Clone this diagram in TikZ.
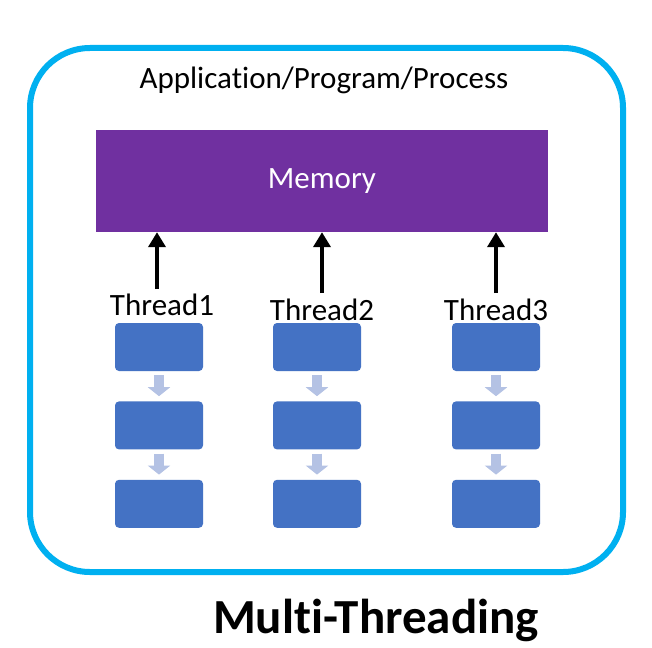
\documentclass[tikz,border=0pt]{standalone}
\usepackage{fontspec}
\setmainfont{Carlito}[Ligatures=NoCommon]
\usetikzlibrary{arrows.meta,positioning}
\definecolor{cyan}{HTML}{00B0F0}
\definecolor{purple}{HTML}{7030A0}
\definecolor{task}{HTML}{4472C4}
\definecolor{pale}{HTML}{B4C2E4}

\begin{document}
\begin{tikzpicture}[x=1pt,y=-1pt,node distance=30pt,
label/.style={font=\fontsize{31}{33}\selectfont,inner sep=0pt},
taskbox/.style={rounded corners=4pt,fill=task,minimum width=88pt,minimum height=48pt},
up/.style={-{Triangle[width=17pt,length=15pt]},line width=4.5pt},
flow/.style={-{Triangle[width=22pt,length=9pt]},line width=10pt,draw=pale,shorten <=4pt,shorten >=5pt}]
\useasboundingbox[fill=white] (0,0) rectangle (652,647);
\draw[cyan,line width=6pt,rounded corners=60pt] (30,48) rectangle (623,572);
\node[label] (app) at (324,80) {Application/Program/Process};
\node[fill=purple,minimum width=452pt,minimum height=102pt,text=white,font=\fontsize{31}{33}\selectfont] (mem) at (322,181) {Memory};
\node[label] (t1) at (162,305) {Thread1};
\node[label] (t2) at (322,310) {Thread2};
\node[label] (t3) at (496,310) {Thread3};
\node[taskbox] (a1) at (159,347) {};
\node[taskbox,below=of a1] (a2) {};
\node[taskbox,below=of a2] (a3) {};
\node[taskbox] (b1) at (317,347) {};
\node[taskbox,below=of b1] (b2) {};
\node[taskbox,below=of b2] (b3) {};
\node[taskbox] (c1) at (496,347) {};
\node[taskbox,below=of c1] (c2) {};
\node[taskbox,below=of c2] (c3) {};
\draw[up] (157,289) coordinate (u1) -- (u1 |- mem.south);
\draw[up] (322,293) coordinate (u2) -- (u2 |- mem.south);
\draw[up] (496,293) coordinate (u3) -- (u3 |- mem.south);
\draw[flow] (a1) -- (a2);
\draw[flow] (a2) -- (a3);
\draw[flow] (b1) -- (b2);
\draw[flow] (b2) -- (b3);
\draw[flow] (c1) -- (c2);
\draw[flow] (c2) -- (c3);
\node[font=\bfseries\fontsize{49}{51}\selectfont,inner sep=0pt] (title) at (376,620) {Multi-Threading};
\end{tikzpicture}
\end{document}
